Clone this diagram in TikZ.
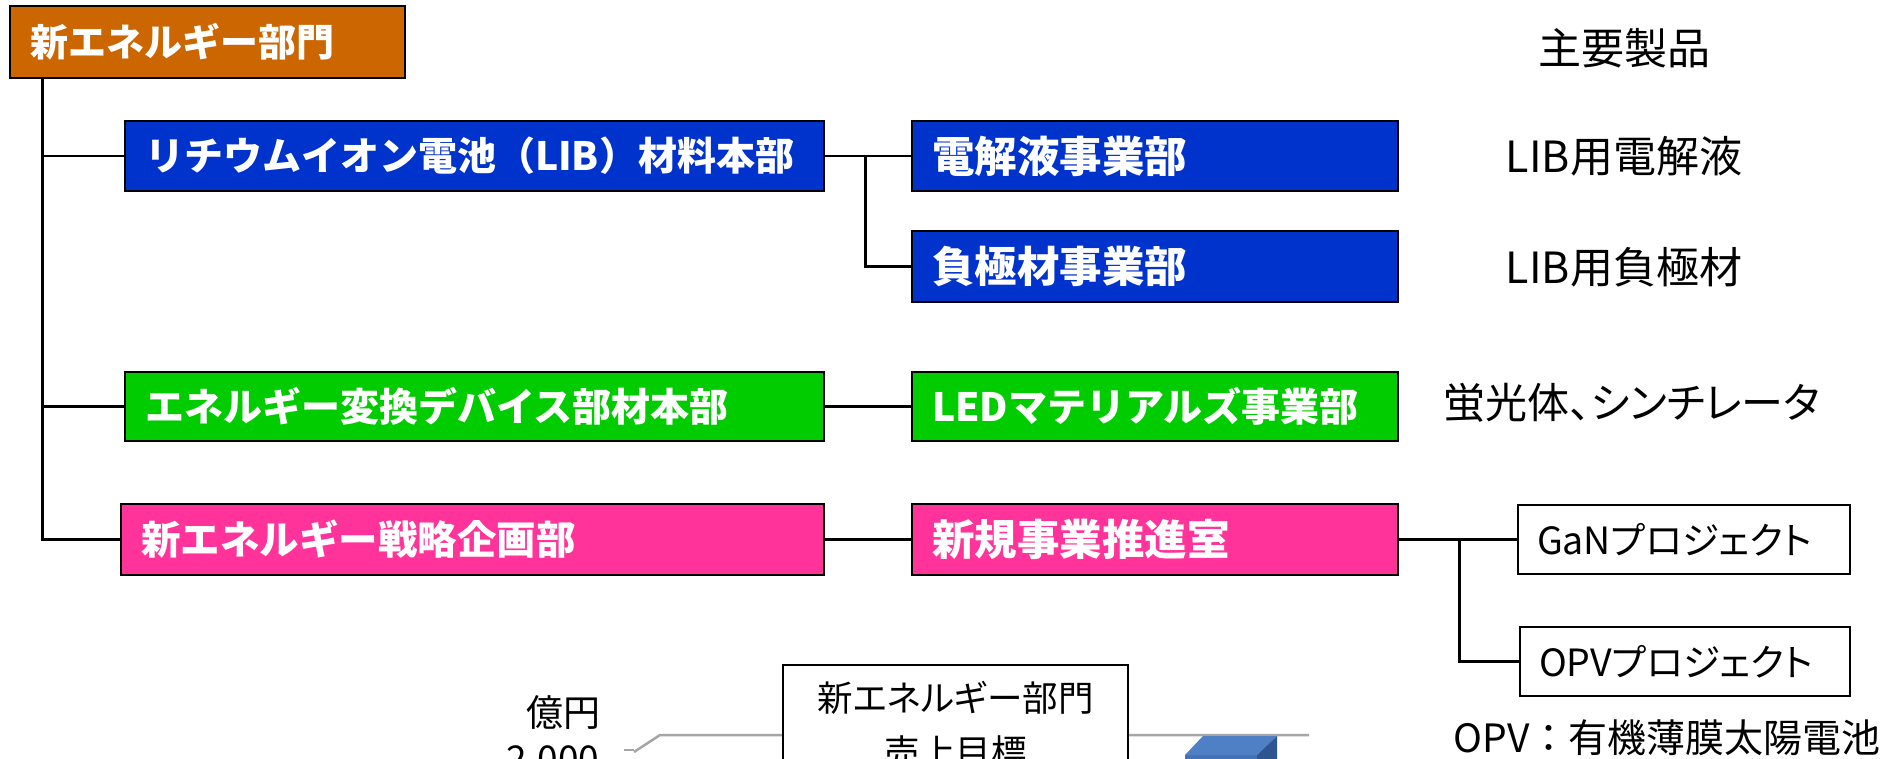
\documentclass[tikz,border=0pt]{standalone}
\usepackage{fontspec}
\setmainfont{Noto Sans CJK JP}
\newfontfamily\pfont[RawFeature=+palt]{Noto Sans CJK JP}
\definecolor{orgC}{HTML}{CC6600}
\definecolor{blueC}{HTML}{0033CC}
\definecolor{greenC}{HTML}{00CC00}
\definecolor{pinkC}{HTML}{FF3399}
\definecolor{gridC}{HTML}{A6A6A6}
\definecolor{barTop}{HTML}{4F7FC4}
\definecolor{barFront}{HTML}{4472B8}
\definecolor{barSide}{HTML}{2E5590}
\begin{document}
\begin{tikzpicture}[x=1pt,y=-1pt,
  orgbox/.style={draw=black, line width=2.5pt, inner xsep=20pt, inner ysep=0pt, align=left,
     text=white, font=\bfseries\fontsize{39}{44}\selectfont},
  bigtext/.style={font=\bfseries\fontsize{42.5}{46}\selectfont},
  whitebox/.style={draw=black, line width=2pt, inner xsep=19pt, inner ysep=0pt, align=left,
     text=black, fill=white, font=\pfont\fontsize{37.5}{44}\selectfont},
  conn/.style={line width=2.8pt, draw=black},
  prod/.style={font=\fontsize{43}{48}\selectfont, inner sep=0pt},
  charttext/.style={font=\fontsize{37}{42}\selectfont, inner sep=0pt}]
\useasboundingbox (0,0) rectangle (1886,759);
\fill[white] (0,0) rectangle (1886,759);

% org boxes
\node[orgbox, fill=orgC, minimum width=395pt, minimum height=72pt, text width=355pt, font=\bfseries\fontsize{38}{44}\selectfont] (top) at (207.5,42) {新エネルギー部門};
\node[orgbox, fill=blueC, minimum width=699pt, minimum height=70pt, text width=659pt] (lib) at (474.5,156) {リチウムイオン電池（LIB）材料本部};
\node[orgbox, bigtext, fill=blueC, minimum width=486pt, minimum height=70pt, text width=446pt] (ele) at (1155,156) {電解液事業部};
\node[orgbox, bigtext, fill=blueC, minimum width=486pt, minimum height=71pt, text width=446pt] (neg) at (1155,266.5) {負極材事業部};
\node[orgbox, fill=greenC, minimum width=699pt, minimum height=69pt, text width=659pt] (conv) at (474.5,406.5) {エネルギー変換デバイス部材本部};
\node[orgbox, fill=greenC, minimum width=486pt, minimum height=69pt, text width=446pt] (led) at (1155,406.5) {LEDマテリアルズ事業部};
\node[orgbox, fill=pinkC, minimum width=703pt, minimum height=71pt, text width=663pt, font=\bfseries\fontsize{39.5}{44}\selectfont] (strat) at (472.5,539.5) {新エネルギー戦略企画部};
\node[orgbox, bigtext, fill=pinkC, minimum width=486pt, minimum height=71pt, text width=446pt] (newbiz) at (1155,539.5) {新規事業推進室};
\node[whitebox, minimum width=332pt, minimum height=69pt, text width=294pt] (gan) at (1684,539.5) {GaNプロジェクト};
\node[whitebox, minimum width=330pt, minimum height=69pt, text width=292pt] (opv) at (1685,661.5) {OPVプロジェクト};

% connectors
\draw[conn] (top.south west) ++(34,0) coordinate (trunk) |- (strat.west);
\draw[conn] (trunk) |- (lib.west);
\draw[conn] (trunk) |- (conv.west);
\draw[conn] (lib.east) -- (ele.west);
\draw[conn] (lib.east) ++(40,0) |- (neg.west);
\draw[conn] (conv.east) -- (led.west);
\draw[conn] (strat.east) -- (newbiz.west);
\draw[conn] (newbiz.east) -- (gan.west);
\draw[conn] (newbiz.east) ++(60,0) |- (opv.west);

% product labels
\node[prod] (hdr) at (1624,48) {主要製品};
\node[prod] (p1) at (1624,156) {LIB用電解液};
\node[prod] (p2) at (1624,267) {LIB用負極材};
\node[prod, font=\pfont\fontsize{42}{48}\selectfont] (p3) at (1632,403) {蛍光体、シンチレータ};
\node[prod, font=\fontsize{39}{44}\selectfont] (note) at (1667,738) {OPV：有機薄膜太陽電池};

% chart fragment
\draw[gridC, line width=2.5pt] (624,750) -- (634,750);
\draw[gridC, line width=2.5pt] (634,752) -- (660,735) -- (1309,735);
\node[charttext] (unit) at (563,713) {億円};
\node[charttext, anchor=north] (v2000) at (553,745) {2,000};
\draw[black, line width=2.5pt, fill=white] (783,665) rectangle (1128,800);
\node[charttext, font=\pfont\fontsize{35.5}{42}\selectfont] (ct1) at (955.5,698) {新エネルギー部門};
\node[charttext, font=\pfont\fontsize{35.5}{42}\selectfont] (ct2) at (955.5,752) {売上目標};
\fill[barFront] (1185,755) -- (1257,755) -- (1257,790) -- (1185,790) -- cycle;
\fill[barTop] (1185,755) -- (1203,736) -- (1277,736) -- (1257,755) -- cycle;
\fill[barSide] (1257,755) -- (1277,736) -- (1277,790) -- (1257,790) -- cycle;
\end{tikzpicture}
\end{document}
